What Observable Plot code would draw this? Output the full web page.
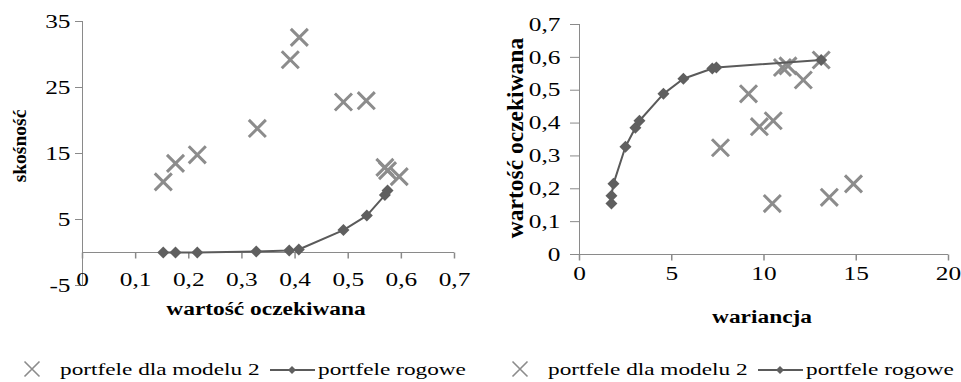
<!DOCTYPE html>
<html><head><meta charset="utf-8">
<script src="https://cdn.jsdelivr.net/npm/d3@7"></script>
<script src="https://cdn.jsdelivr.net/npm/@observablehq/plot@0.6"></script>
<style>
body{margin:0;background:#fff;}
#wrap{position:relative;width:961px;height:382px;overflow:hidden;color:#000;background:#fff;}
.chart{position:absolute;top:0;}
#overlay{position:absolute;left:0;top:0;}
</style></head><body><div id="wrap"></div>
<script>
// ---- tick values ----
const leftXTicks = [0, 0.1, 0.2, 0.3, 0.4, 0.5, 0.6, 0.7];
const leftYTicks = [-5, 5, 15, 25, 35];
const rightXTicks = [0, 5, 10, 15, 20];
const rightYTicks = [0, 0.1, 0.2, 0.3, 0.4, 0.5, 0.6, 0.7];

// ---- left chart: expected value vs skewness ----
const model2ExpL  = [0.152, 0.175, 0.216, 0.329, 0.391, 0.408, 0.491, 0.534, 0.569, 0.574, 0.596];
const model2Skew  = [10.7, 13.5, 14.8, 18.8, 29.2, 32.6, 22.8, 23.0, 12.9, 12.4, 11.5];
const cornerExpL  = [0.152, 0.175, 0.216, 0.327, 0.389, 0.407, 0.491, 0.535, 0.569, 0.574];
const cornerSkew  = [0.0, 0.0, 0.0, 0.15, 0.3, 0.45, 3.4, 5.6, 8.7, 9.4];

// ---- right chart: variance vs expected value ----
const model2Var   = [7.64, 9.16, 9.75, 10.5, 10.45, 11.0, 11.3, 12.13, 13.1, 13.54, 14.85];
const model2ExpR  = [0.325, 0.489, 0.389, 0.407, 0.155, 0.569, 0.574, 0.531, 0.592, 0.174, 0.215];
const cornerVar   = [1.73, 1.73, 1.84, 2.49, 3.03, 3.25, 4.55, 5.63, 7.2, 7.42, 13.1];
const cornerExpR  = [0.155, 0.179, 0.215, 0.328, 0.386, 0.407, 0.489, 0.535, 0.566, 0.569, 0.592];

// ---- texts ----
const seriesNames = ["portfele dla modelu 2", "portfele rogowe"];
const leftXTitle = "wartość oczekiwana";
const leftYTitle = "skośność";
const rightXTitle = "wariancja";
const rightYTitle = "wartość oczekiwana";

// pick an installed Times-like serif
function pickFont(cands) {
  const c = document.createElement("canvas").getContext("2d");
  const s = "portfele dla modelu 2 wartość 0,123 WMmi";
  c.font = "20px monospace"; const base = c.measureText(s).width;
  for (const f of cands) {
    c.font = `20px "${f}", monospace`;
    if (Math.abs(c.measureText(s).width - base) > 0.5) return f;
  }
  return "serif";
}
const fam = pickFont(["Liberation Serif", "Times New Roman", "Tinos", "Nimbus Roman", "Nimbus Roman No9 L", "FreeSerif", "DejaVu Serif"]);
const FF = `"${fam}", serif`;

const axisGray = "#8a8a8a", crossGray = "#8c8c8c", lineGray = "#5a5a5a", diamondGray = "#5f5f5f";
const fmt = d => String(+(+d).toFixed(2)).replace(".", ",");
const tickDown = {draw(ctx){ ctx.moveTo(0, 0); ctx.lineTo(0, 6); }};
const style = {fontFamily: FF, fontSize: "19.5px", color: "#000", background: "transparent", overflow: "visible"};

const leftModel = model2ExpL.map((e, i) => ({x: e, y: model2Skew[i]}));
const leftCorner = cornerExpL.map((e, i) => ({x: e, y: cornerSkew[i]}));
const rightModel = model2Var.map((v, i) => ({x: v, y: model2ExpR[i]}));
const rightCorner = cornerVar.map((v, i) => ({x: v, y: cornerExpR[i]}));

function finish(svg, k) {
  svg.style.fontFamily = FF;
  svg.querySelectorAll("text").forEach(t => {
    t.setAttribute("font-family", FF);
    const tr = t.getAttribute("transform") || "";
    t.setAttribute("transform", tr + ` scale(${k},1)`);
  });
}

const left = Plot.plot({
  width: 480, height: 300, marginLeft: 82, marginRight: 26, marginTop: 21, marginBottom: 15,
  x: {domain: [0, 0.7], label: null}, y: {domain: [-5, 35], label: null},
  style,
  marks: [
    Plot.ruleX([0], {stroke: axisGray}),
    Plot.ruleY([0], {x1: 0, x2: 0.7, stroke: axisGray}),
    Plot.dot(leftXTicks, {x: d => d, y: 0, symbol: tickDown, stroke: axisGray, fill: "none"}),
    Plot.axisY({ticks: leftYTicks, tickSize: 7, tickPadding: 5, tickFormat: fmt, stroke: axisGray, fill: "#000"}),
    Plot.axisX({ticks: leftXTicks, tickSize: 0, tickPadding: 0, tickFormat: fmt, dy: -13, fill: "#000"}),
    Plot.dot(leftModel, {x: "x", y: "y", symbol: "times", r: 7.8, stroke: crossGray, strokeWidth: 3}),
    Plot.line(leftCorner, {x: "x", y: "y", stroke: lineGray, strokeWidth: 2}),
    Plot.dot(leftCorner, {x: "x", y: "y", symbol: "diamond2", r: 5.4, fill: diamondGray, stroke: "none"})
  ]
});

const right = Plot.plot({
  width: 481, height: 290, marginLeft: 99, marginRight: 13, marginTop: 24, marginBottom: 36,
  x: {domain: [0, 20], label: null}, y: {domain: [0, 0.7], label: null},
  style,
  marks: [
    Plot.ruleX([0], {stroke: axisGray}),
    Plot.ruleY([0], {stroke: axisGray}),
    Plot.dot(rightXTicks, {x: d => d, y: 0, symbol: tickDown, stroke: axisGray, fill: "none"}),
    Plot.axisY({ticks: rightYTicks, tickSize: 9, tickPadding: 10, tickFormat: fmt, stroke: axisGray, fill: "#000"}),
    Plot.axisX({ticks: rightXTicks, tickSize: 0, tickPadding: 12, tickFormat: fmt, fill: "#000"}),
    Plot.dot(rightModel, {x: "x", y: "y", symbol: "times", r: 7.8, stroke: crossGray, strokeWidth: 3}),
    Plot.line(rightCorner, {x: "x", y: "y", stroke: lineGray, strokeWidth: 2}),
    Plot.dot(rightCorner, {x: "x", y: "y", symbol: "diamond2", r: 5.4, fill: diamondGray, stroke: "none"})
  ]
});

finish(left, 1.3);
finish(right, 1.3);

const wrap = document.getElementById("wrap");
left.classList.add("chart"); left.style.left = "0px";
right.classList.add("chart"); right.style.left = "480px";
wrap.appendChild(left);
wrap.appendChild(right);

// ---- overlay: axis titles and legends ----
const ns = "http://www.w3.org/2000/svg";
const ov = document.createElementNS(ns, "svg");
ov.setAttribute("id", "overlay");
ov.setAttribute("width", 961); ov.setAttribute("height", 382);
ov.setAttribute("font-family", FF);
wrap.appendChild(ov);

function txt(s, x, y, o) {
  const t = document.createElementNS(ns, "text");
  t.textContent = s;
  t.setAttribute("font-size", o.size);
  if (o.bold) t.setAttribute("font-weight", "bold");
  t.setAttribute("text-anchor", o.anchor || "middle");
  t.setAttribute("fill", "#000");
  t.setAttribute("transform", `translate(${x},${y}) rotate(${o.rot || 0}) scale(${o.k || 1},1)`);
  ov.appendChild(t);
}
txt(leftXTitle, 266, 315, {size: 19.5, bold: true, k: 1.2});
txt(leftYTitle, 26, 146, {size: 19.5, bold: true, rot: -90});
txt(rightXTitle, 762, 323, {size: 19.5, bold: true, k: 1.2});
txt(rightYTitle, 523, 138, {size: 23.5, bold: true, rot: -90});

function legend(dx) {
  const g = document.createElementNS(ns, "g");
  g.setAttribute("transform", `translate(${dx},0)`);
  g.innerHTML =
    `<path d="M24.5,361.5L39.5,376.5M39.5,361.5L24.5,376.5" stroke="${crossGray}" stroke-width="1.6" fill="none"/>` +
    `<line x1="270" y1="370" x2="315" y2="370" stroke="${lineGray}" stroke-width="2"/>` +
    `<path d="M292,366L296,370L292,374L288,370Z" fill="${diamondGray}"/>`;
  ov.appendChild(g);
  txt(seriesNames[0], 60 + dx, 375, {size: 17.5, anchor: "start", k: 1.33});
  txt(seriesNames[1], 318 + dx, 375, {size: 17.5, anchor: "start", k: 1.33});
}
legend(0);
legend(488);
</script></body></html>
